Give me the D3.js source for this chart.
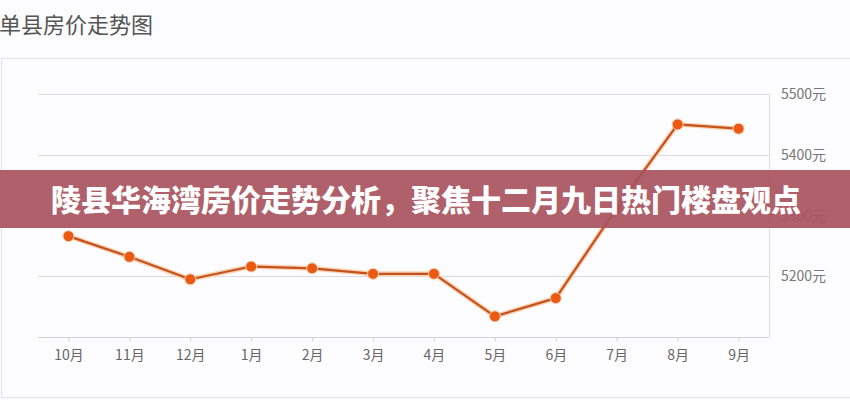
<!DOCTYPE html>
<html>
<head>
<meta charset="utf-8">
<script src="https://d3js.org/d3.v7.min.js"></script>
<style>
  html, body { margin: 0; padding: 0; background: #fcfbfd; }
  svg { display: block; }
</style>
</head>
<body>
<svg id="chart" width="850" height="400"></svg>
<script>
var months = ["10月","11月","12月","1月","2月","3月","4月","5月","6月","7月","8月","9月"];
var prices = [5266, 5232, 5195, 5216, 5213, 5204, 5204, 5134, 5164, 5312, 5450, 5443];
var yTicks = [5200, 5300, 5400, 5500];
var chartTitle = "单县房价走势图";
var bannerText = "陵县华海湾房价走势分析，聚焦十二月九日热门楼盘观点";

(function(){
var svg = d3.select("#chart");
var font = "'Noto Sans CJK SC', 'Noto Sans', sans-serif";

svg.append("rect").attr("width", 850).attr("height", 400).attr("fill", "#fcfbfd");

// title
svg.append("text").attr("x", -1).attr("y", 33)
  .attr("font-family", font).attr("font-size", 22).attr("fill", "#555")
  .text(chartTitle);

// panel frame
svg.append("rect").attr("x", 1.5).attr("y", 58.5).attr("width", 870).attr("height", 339)
  .attr("fill", "#fdfcfe").attr("stroke", "#e2e1e5");

var pLeft = 38, pRight = 769, pTop = 94, pBottom = 337;

var x = d3.scalePoint().domain(months).range([pLeft, pRight]).padding(0.5);
var y = d3.scaleLinear().domain([5100, 5500]).range([pBottom, pTop]);

// grid lines
svg.append("g").selectAll("line").data(yTicks).enter().append("line")
  .attr("x1", pLeft).attr("x2", pRight)
  .attr("y1", function(d){ return Math.round(y(d)) + 0.5; })
  .attr("y2", function(d){ return Math.round(y(d)) + 0.5; })
  .attr("stroke", "#dcdbe0");

// right frame line of plot
svg.append("line").attr("x1", pRight + 0.5).attr("x2", pRight + 0.5).attr("y1", pTop).attr("y2", pBottom)
  .attr("stroke", "#dcdbe0");

// y labels on right
svg.append("g").selectAll("text").data(yTicks).enter().append("text")
  .attr("x", 781).attr("y", function(d){ return y(d) + 5; })
  .attr("font-family", font).attr("font-size", 14).attr("fill", "#777")
  .text(function(d){ return d + "元"; });

// x axis
var xAxis = d3.axisBottom(x).tickSize(4).tickPadding(9);
var gx = svg.append("g").attr("transform", "translate(0," + pBottom + ")").call(xAxis);
gx.select(".domain").attr("stroke", "#cfcfd4").attr("d", "M" + pLeft + ",0.5H" + pRight);
gx.selectAll(".tick line").attr("stroke", "#cfcfd4");
gx.selectAll(".tick text").attr("font-family", font).attr("font-size", 14).attr("fill", "#666");

// line
var line = d3.line().x(function(d, i){ return x(months[i]); }).y(function(d){ return y(d); });
svg.append("path").datum(prices).attr("d", line)
  .attr("fill", "none").attr("stroke", "#fbd2b6").attr("stroke-width", 5).attr("stroke-linejoin", "round");
svg.append("path").datum(prices).attr("d", line)
  .attr("fill", "none").attr("stroke", "#c4521d").attr("stroke-width", 2.2).attr("stroke-linejoin", "round");

svg.append("g").selectAll("circle").data(prices).enter().append("circle")
  .attr("cx", function(d, i){ return x(months[i]); })
  .attr("cy", function(d){ return y(d); })
  .attr("r", 5.5).attr("fill", "#ea5a12").attr("stroke", "#fbd2b6").attr("stroke-width", 1);

// banner overlay
svg.append("rect").attr("x", 0).attr("y", 170).attr("width", 850).attr("height", 58)
  .attr("fill", "#a8525e").attr("opacity", 0.92);
svg.append("text").attr("x", 426).attr("y", 211).attr("text-anchor", "middle")
  .attr("font-family", font).attr("font-size", 30).attr("font-weight", 900).attr("fill", "#fff")
  .text(bannerText);
})();
</script>
</body>
</html>
